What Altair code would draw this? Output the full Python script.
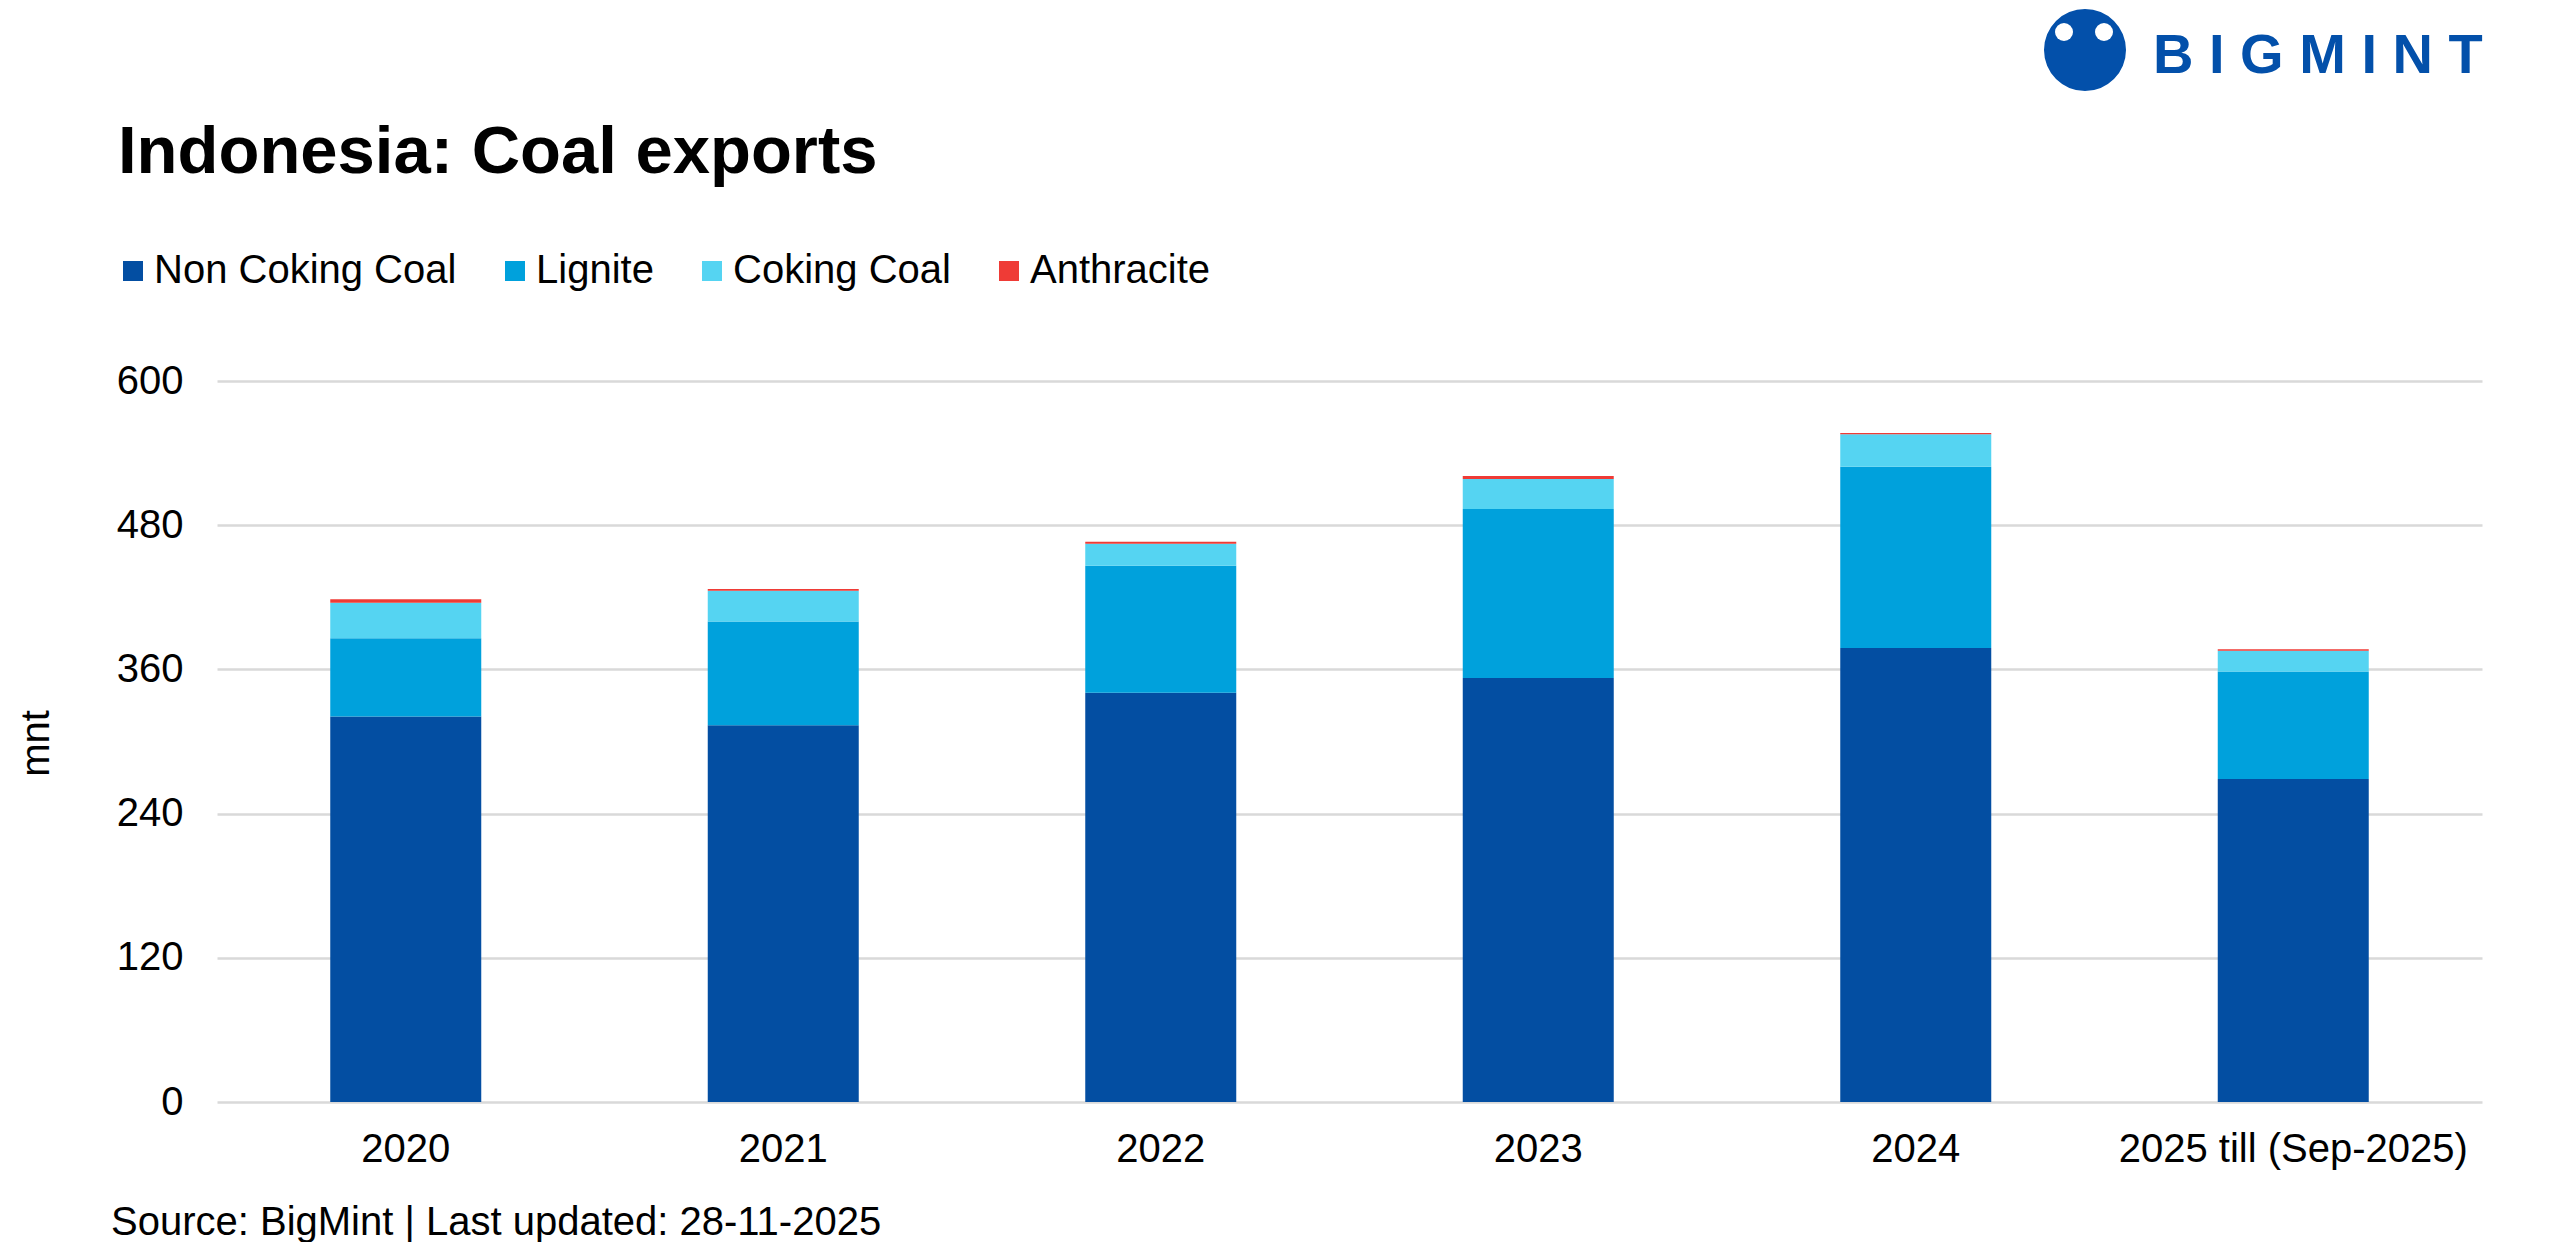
import altair as alt
import pandas as pd

years = ["2020", "2021", "2022", "2023", "2024", "2025 till (Sep-2025)"]
series_names = ["Non Coking Coal", "Lignite", "Coking Coal", "Anthracite"]
series_colors = ["#034EA2", "#00A1DC", "#55D4F2", "#EF3B36"]
non_coking = [320.8, 313.6, 340.5, 352.9, 377.9, 268.7]
lignite = [65.2, 86.2, 105.8, 140.6, 150.8, 89.5]
coking = [29.5, 25.7, 18.3, 24.9, 26.9, 17.4]
anthracite = [2.9, 1.4, 1.7, 2.5, 1.1, 1.2]
y_ticks = [0, 120, 240, 360, 480, 600]

title_text = "Indonesia: Coal exports"
source_text = "Source: BigMint | Last updated: 28-11-2025"
logo_text = "B I G M I N T"
FONT = "Liberation Sans"
FS = 40

rows = []
for si, (name, vals) in enumerate(zip(series_names, [non_coking, lignite, coking, anthracite])):
    for y, v in zip(years, vals):
        rows.append({"year": y, "series": name, "value": v, "order": si})
df = pd.DataFrame(rows)

bars = alt.Chart(df).mark_bar().encode(
    x=alt.X("year:N", sort=years,
            scale=alt.Scale(paddingInner=0.6, paddingOuter=0.3),
            axis=alt.Axis(title=None, labelAngle=0, domain=False, ticks=False,
                          labelFontSize=FS, labelFont=FONT, labelColor="#000000",
                          labelPadding=27, labelLimit=800)),
    y=alt.Y("value:Q", stack="zero",
            scale=alt.Scale(domain=[0, 600], nice=False),
            axis=alt.Axis(title="mnt", values=y_ticks, domain=False, ticks=False,
                          grid=True, gridColor="#D9D9D9", gridWidth=2.5,
                          labelFontSize=FS, labelFont=FONT, labelColor="#000000",
                          labelPadding=34, titleFontSize=FS, titleFont=FONT,
                          titleFontWeight="normal", titleColor="#000000",
                          titleX=-181, titleY=362, titleAngle=-90,
                          titleAlign="center", titleBaseline="middle")),
    color=alt.Color("series:N",
                    scale=alt.Scale(domain=series_names, range=series_colors),
                    legend=alt.Legend(title=None, orient="none", legendX=-104, legendY=-130,
                                      direction="horizontal", symbolType="square",
                                      symbolSize=400, symbolStrokeWidth=0,
                                      labelFontSize=FS, labelFont=FONT, labelColor="#000000",
                                      columnPadding=38, labelOffset=1, labelLimit=800)),
    order=alt.Order("order:Q", sort="ascending"),
)

title = alt.Chart(pd.DataFrame({"t": [title_text]})).mark_text(
    align="left", baseline="alphabetic", fontSize=67, font=FONT, fontWeight="bold",
    color="#000000").encode(x=alt.value(-99), y=alt.value(-208), text="t:N")

source = alt.Chart(pd.DataFrame({"t": [source_text]})).mark_text(
    align="left", baseline="middle", fontSize=FS, font=FONT, color="#000000").encode(
    x=alt.value(-106), y=alt.value(842), text="t:N")

logo_circle = alt.Chart(pd.DataFrame({"a": [0]})).mark_point(
    shape="circle", filled=True, size=6724, color="#0350AA", opacity=1).encode(
    x=alt.value(1868), y=alt.value(-331))
heads = alt.Chart(pd.DataFrame({"hx": [1847, 1887]})).mark_point(
    shape="circle", filled=True, size=324, color="#FFFFFF", opacity=1).encode(
    x=alt.X("hx:Q", scale=None), y=alt.value(-349))
logo = alt.Chart(pd.DataFrame({"t": [logo_text]})).mark_text(
    align="left", baseline="middle", fontSize=56, font=FONT, fontWeight="bold",
    color="#0350AA").encode(x=alt.value(1936), y=alt.value(-325), text="t:N")

chart = alt.layer(bars, title, source, logo_circle, heads, logo).properties(
    width=2265, height=721,
    background="#FFFFFF",
    autosize=alt.AutoSizeParams(type="none"),
    padding={"left": 209, "top": 373, "right": 60, "bottom": 140},
).configure_view(stroke=None)

chart.save("out.html", embed_options={"renderer": "svg", "actions": False})
